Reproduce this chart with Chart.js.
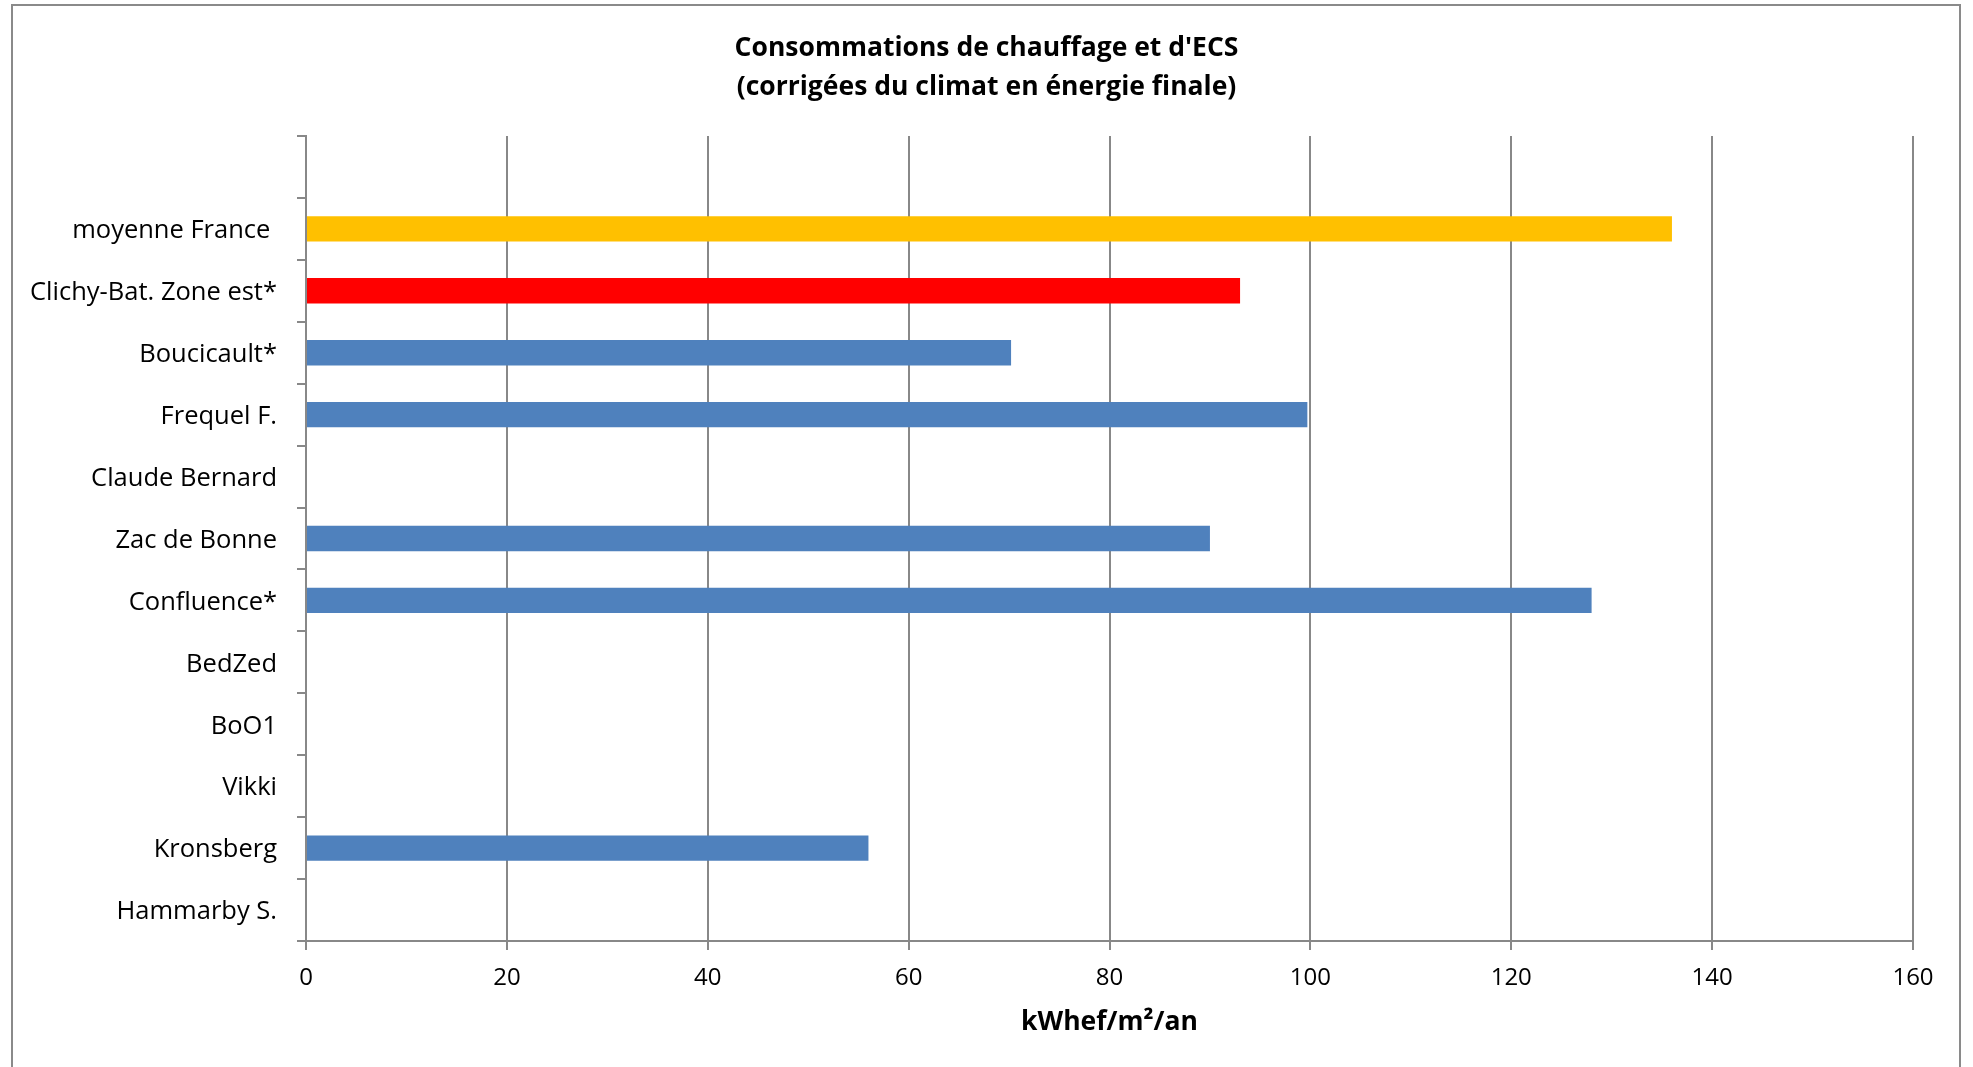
<!DOCTYPE html>
<html>
<head>
<meta charset="utf-8">
<script src="https://cdn.jsdelivr.net/npm/chart.js@4.4.1/dist/chart.umd.min.js"></script>
<style>
  html, body { margin: 0; padding: 0; background: #fff; overflow: hidden; }
  #wrap { position: absolute; left: 0; top: 0; width: 1973px; height: 1067px; }
  #frame { position: absolute; left: 11px; top: 4px; width: 1950px; height: 1100px; border: 2px solid #8a8a8a; box-sizing: border-box; }
  canvas { position: absolute; left: 0; top: 0; }
</style>
</head>
<body>
<div id="wrap">
  <div id="frame"></div>
  <canvas id="c" width="1973" height="1067"></canvas>
</div>
<script>
const titleLines = ["Consommations de chauffage et d'ECS", "(corrigées du climat en énergie finale)"];
const axisTitle = "kWhef/m²/an";
const categories = ["", "moyenne France ", "Clichy-Bat. Zone est*", "Boucicault*", "Frequel F.", "Claude Bernard", "Zac de Bonne", "Confluence*", "BedZed", "BoO1", "Vikki", "Kronsberg", "Hammarby S."];
const values = [null, 136, 93, 70.2, 99.7, null, 90, 128, null, null, null, 56, null];
const barColors = ["#4F81BD", "#FFC000", "#FF0000", "#4F81BD", "#4F81BD", "#4F81BD", "#4F81BD", "#4F81BD", "#4F81BD", "#4F81BD", "#4F81BD", "#4F81BD", "#4F81BD"];
const xTicks = [0, 20, 40, 60, 80, 100, 120, 140, 160];

const gridColor = "#888888";
const FONT = "'Open Sans', 'DejaVu Sans', sans-serif";

// center the title over the whole canvas (not just the padded layout area)
const centerTitle = {
  id: 'centerTitle',
  afterLayout(chart) {
    if (chart.titleBlock) {
      chart.titleBlock.left = 0;
      chart.titleBlock.right = chart.width;
    }
  }
};

new Chart(document.getElementById('c'), {
  type: 'bar',
  plugins: [centerTitle],
  data: {
    labels: categories,
    datasets: [{
      data: values,
      backgroundColor: barColors,
      borderWidth: 0,
      categoryPercentage: 1.0,
      barPercentage: 0.41
    }]
  },
  options: {
    indexAxis: 'y',
    responsive: false,
    animation: false,
    layout: { padding: { left: 0, right: 60, top: 0, bottom: 0 } },
    plugins: {
      legend: { display: false },
      tooltip: { enabled: false },
      title: {
        display: true,
        text: titleLines,
        color: '#000',
        font: { family: FONT, size: 26.5, weight: 'bold', lineHeight: '39px' },
        padding: { top: 28.5, bottom: 29.5 }
      }
    },
    scales: {
      x: {
        type: 'linear',
        min: 0,
        max: 160,
        afterBuildTicks: (s) => { s.ticks = xTicks.map(v => ({ value: v })); },
        afterFit: (s) => { s.height = 126; },
        grid: { color: gridColor, lineWidth: 2, tickLength: 9, drawTicks: true },
        border: { display: true, color: gridColor, width: 2 },
        ticks: { color: '#000', font: { family: FONT, size: 24 }, padding: 14 },
        title: {
          display: true,
          text: axisTitle,
          color: '#000',
          font: { family: FONT, size: 26.5, weight: 'bold' },
          padding: { top: 0, bottom: 29 }
        }
      },
      y: {
        type: 'category',
        offset: true,
        afterFit: (s) => { s.width = 306; },
        grid: { display: true, offset: true, drawOnChartArea: false, drawTicks: true, tickLength: 9, color: gridColor, lineWidth: 2 },
        border: { display: true, color: gridColor, width: 2 },
        ticks: { color: '#000', font: { family: FONT, size: 25.5 }, padding: 20, autoSkip: false, labelOffset: 2 }
      }
    }
  }
});
</script>
</body>
</html>
